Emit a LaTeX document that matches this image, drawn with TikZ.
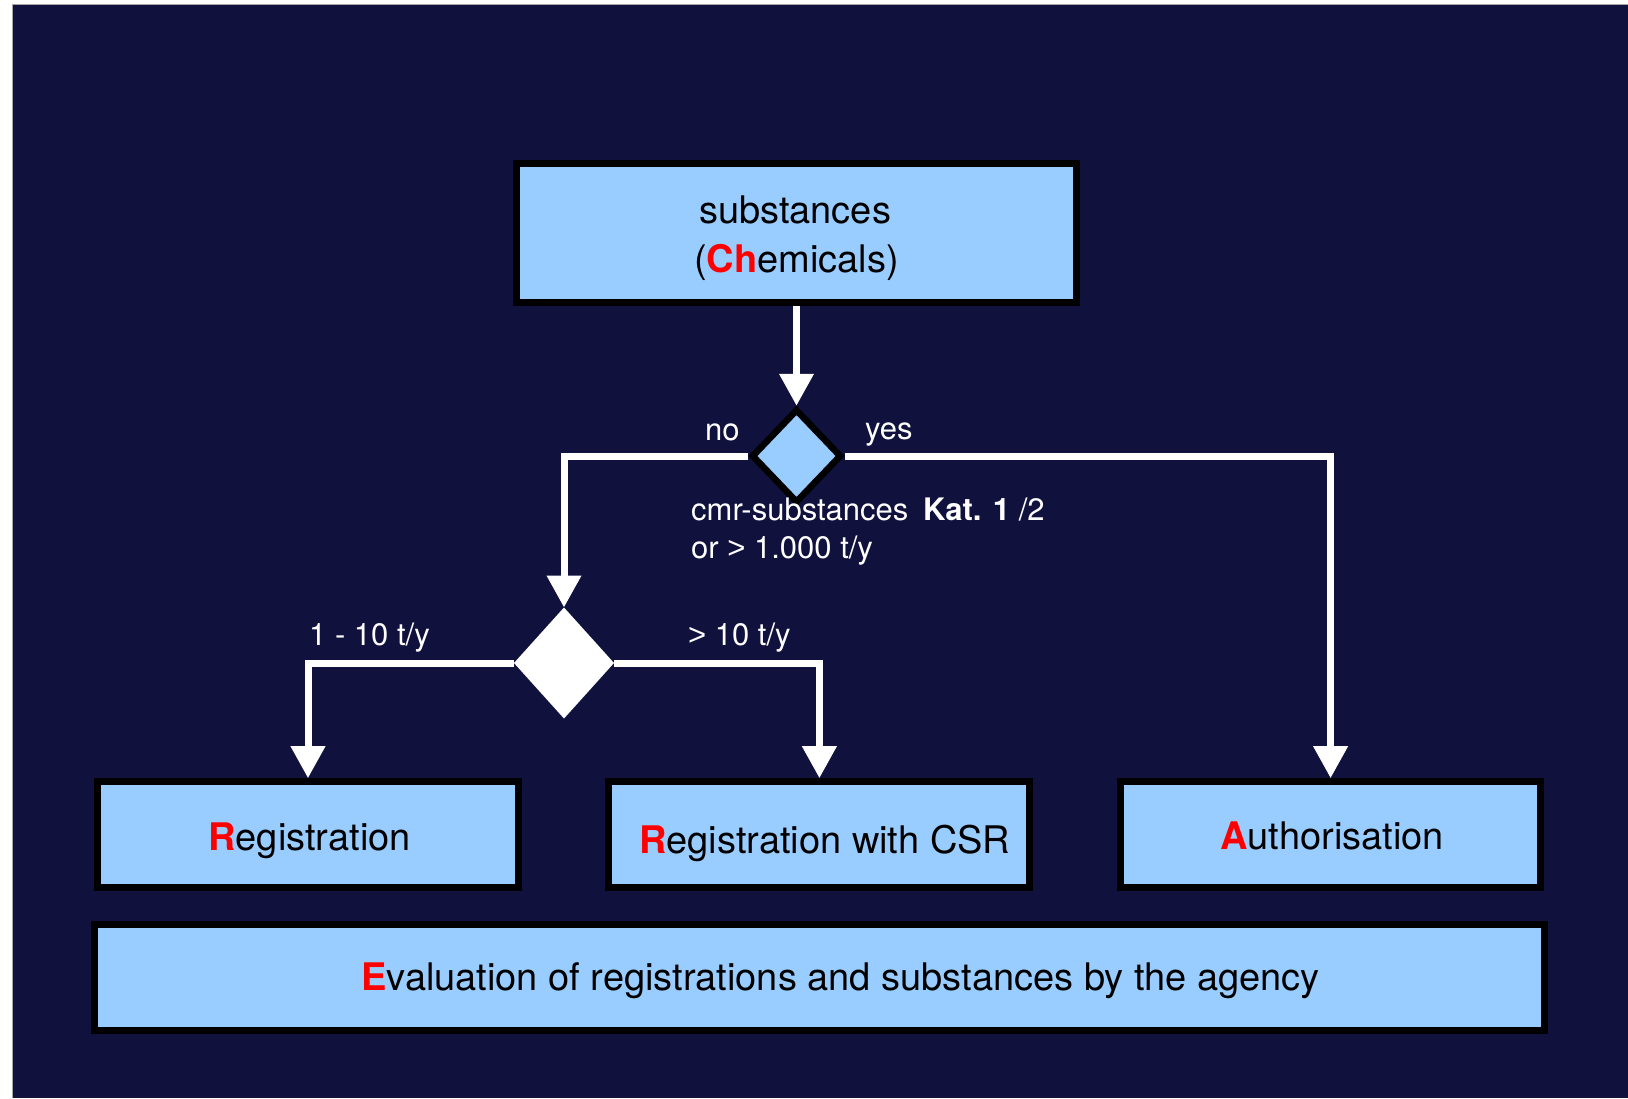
\documentclass[tikz,border=0pt]{standalone}
\usepackage{fontspec}
\setmainfont{TeX Gyre Heros}
\newfontfamily\gtfont{Liberation Sans}
\usetikzlibrary{shapes.geometric,arrows.meta}
\definecolor{navy}{RGB}{17,17,62}
\definecolor{lblue}{RGB}{153,204,255}
\definecolor{redc}{RGB}{255,0,0}
\newcommand{\redini}[1]{\textcolor{redc}{\bfseries #1}}
\newcommand{\gtsym}{{\gtfont >}}
\begin{document}
\begin{tikzpicture}[x=1pt,y=-1pt,
  box/.style={rectangle,draw=black,line width=7pt,fill=lblue,inner sep=0pt},
  boxtext/.style={anchor=base,text=black,font=\fontsize{38}{49}\selectfont,inner sep=0pt},
  lbl/.style={anchor=base west,text=white,font=\fontsize{31}{37}\selectfont,inner sep=0pt},
  conn/.style={draw=white,line width=7pt},
  arr/.style={conn,-{Triangle[width=33pt,length=32pt]}}
]
\useasboundingbox (0,0) rectangle (1628,1098);
\fill[white] (0,0) rectangle (1628,1098);
\fill[navy] (12,4) rectangle (1628,1098);
\draw[gray!70,line width=0.8pt] (12,1098) -- (12,4) -- (1628,4);

% boxes
\node[box,minimum width=560pt,minimum height=139pt] (top) at (796.5,233) {};
\node[boxtext] (t1) at (795,223) {substances};
\node[boxtext] (t2) at (796.5,272) {(\redini{Ch}emicals)};

\node[diamond,draw=black,line width=6.5pt,fill=lblue,inner sep=0pt,
      minimum width=90pt,minimum height=94pt] (d1) at (796.5,456) {};
\node[diamond,fill=white,inner sep=0pt,outer sep=0pt,
      minimum width=100pt,minimum height=111pt] (d2) at (564,663) {};

\node[box,minimum width=421pt,minimum height=106pt] (reg) at (308,834.7) {};
\node[box,minimum width=421pt,minimum height=106pt] (csr) at (819.4,834.7) {};
\node[box,minimum width=420pt,minimum height=106pt] (auth) at (1330.6,834.7) {};
\node[box,minimum width=1450pt,minimum height=106pt] (eval) at (819.5,977) {};

\node[boxtext] (regt) at (309.6,850) {\redini{R}egistration};
\node[boxtext] (csrt) at (824.7,853.3) {\redini{R}egistration with CSR};
\node[boxtext] (autht) at (1332,849.3) {\redini{A}uthorisation};
\node[boxtext] (evalt) at (840.7,990) {\redini{E}valuation of registrations and substances by the agency};

% connectors
\draw[arr] (top.south) -- (d1.north);
\draw[arr] (d1.west) -| (d2.north);
\draw[arr] (d1.east) -| (auth.north);
\draw[arr] (d2.west) -| (reg.north);
\draw[arr] (d2.east) -| (csr.north);

% labels
\node[lbl] (no) at (705,440) {no};
\node[lbl] (yes) at (865,439.5) {yes};
\node[lbl] (cmr) at (691,520) {cmr-substances\hspace{6pt} \textbf{Kat. 1} /2};
\node[lbl] (or) at (691,558) {or \gtsym{} 1.000 t/y};
\node[lbl] (l1) at (309,645) {1 - 10 t/y};
\node[lbl] (l2) at (688,645) {\gtsym{} 10 t/y};
\end{tikzpicture}
\end{document}
